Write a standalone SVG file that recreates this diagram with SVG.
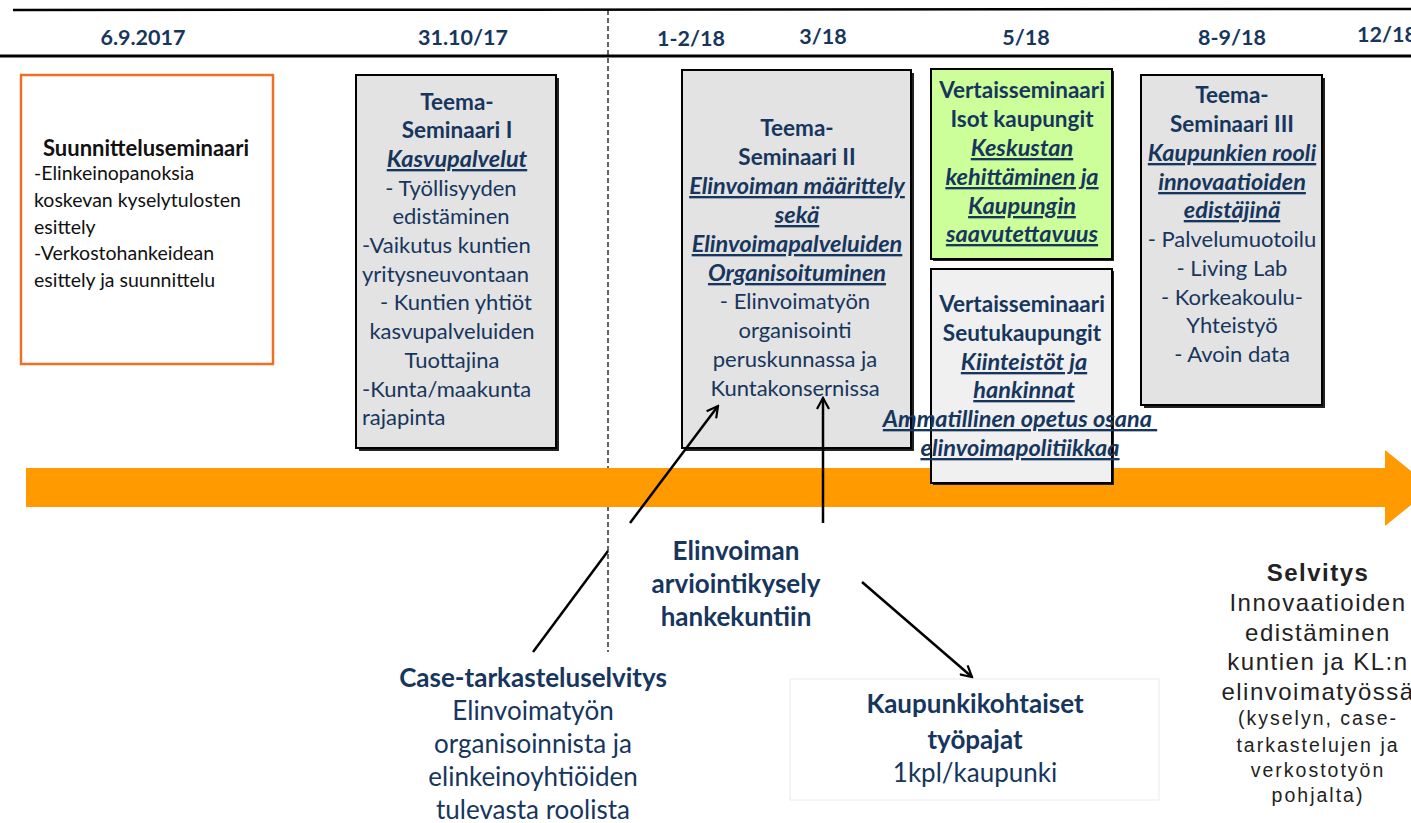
<svg xmlns="http://www.w3.org/2000/svg" width="1411" height="823" viewBox="0 0 1411 823">
<style>
text{font-family:Lato,"Open Sans","Liberation Sans",sans-serif;fill:#17365D}
.c{text-anchor:middle}
.b{font-weight:bold;font-size:22.5px}
.u{font-style:italic;font-weight:bold;text-decoration:underline;font-size:23.5px}
.d{font-size:21.5px;font-weight:bold;text-anchor:middle}
.t{font-size:22px}
.s{font-size:19.5px;fill:#111}
.big{font-size:26px}
.sel{font-family:"Liberation Sans",Arial,sans-serif;fill:#222;text-anchor:middle}
.l1{font-size:24px;letter-spacing:1.5px}
.l2{font-size:19.5px;letter-spacing:2px}
.box{fill:#E3E3E3;stroke:#000;stroke-width:2}
.sh{fill:#222}
.con{stroke:#000;stroke-width:2.5;fill:none}
</style>
<defs>
<marker id="ah" viewBox="0 0 14 14" refX="12" refY="7" markerWidth="14" markerHeight="14" markerUnits="userSpaceOnUse" orient="auto">
<polyline points="1,1 12,7 1,13" fill="none" stroke="#000" stroke-width="2.2"/>
</marker>
</defs>

<g id="timeline">
<line x1="13" y1="10" x2="1411" y2="9" stroke="#000" stroke-width="2.5"/>
<line x1="0" y1="56" x2="1411" y2="56" stroke="#000" stroke-width="3"/>
<line x1="608" y1="10" x2="608" y2="652" stroke="#000" stroke-width="1.2" stroke-dasharray="5,3"/>
<text class="d" x="143" y="45">6.9.2017</text>
<text class="d" x="463" y="45">31.10/17</text>
<text class="d" x="691" y="46">1-2/18</text>
<text class="d" x="823" y="44">3/18</text>
<text class="d" x="1026" y="45">5/18</text>
<text class="d" x="1232" y="45">8-9/18</text>
<text class="d" x="1357" y="42" style="text-anchor:start">12/18</text>
<polygon points="26,468 1385,468 1385,450 1432,488 1385,526 1385,507 26,507" fill="#FF9A00"/>
</g>

<g id="suunnittelu">
<rect x="21" y="75" width="252" height="289" fill="#fff" stroke="#ED7024" stroke-width="2.5"/>
<text class="c" x="146" y="156" style="font-size:22px;font-weight:bold;fill:#111">Suunnitteluseminaari</text>
<text class="s" x="34" y="180">-Elinkeinopanoksia</text>
<text class="s" x="34" y="207">koskevan kyselytulosten</text>
<text class="s" x="34" y="234">esittely</text>
<text class="s" x="34" y="260">-Verkostohankeidean</text>
<text class="s" x="34" y="287">esittely ja suunnittelu</text>
</g>

<g id="teema1">
<rect class="sh" x="359" y="78" width="200" height="373"/>
<rect class="box" x="356" y="75" width="200" height="373"/>
<text class="c b" x="457" y="110">Teema-</text>
<text class="c b" x="457" y="138">Seminaari I</text>
<text class="c u" x="457" y="167">Kasvupalvelut</text>
<text class="t c" x="451" y="196">- Työllisyyden</text>
<text class="t c" x="451" y="224">edistäminen</text>
<text class="t" x="362" y="253">-Vaikutus kuntien</text>
<text class="t" x="362" y="282">yritysneuvontaan</text>
<text class="t c" x="456" y="310">- Kuntien yhtiöt</text>
<text class="t c" x="452" y="339">kasvupalveluiden</text>
<text class="t c" x="452" y="368">Tuottajina</text>
<text class="t" x="362" y="397">-Kunta/maakunta</text>
<text class="t" x="362" y="425">rajapinta</text>
</g>

<g id="teema2">
<rect class="sh" x="685" y="73" width="229" height="378"/>
<rect class="box" x="682" y="70" width="229" height="378"/>
<text class="c b" x="797" y="136">Teema-</text>
<text class="c b" x="797" y="165">Seminaari II</text>
<text class="c u" x="797" y="194">Elinvoiman määrittely</text>
<text class="c u" x="797" y="223">sekä</text>
<text class="c u" x="797" y="252">Elinvoimapalveluiden</text>
<text class="c u" x="797" y="281">Organisoituminen</text>
<text class="t c" x="795" y="309">- Elinvoimatyön</text>
<text class="t c" x="795" y="338">organisointi</text>
<text class="t c" x="795" y="367">peruskunnassa ja</text>
<text class="t c" x="795" y="396">Kuntakonsernissa</text>
</g>

<g id="vertais-isot">
<rect class="sh" x="933" y="71" width="181" height="190"/>
<rect x="931" y="69" width="181" height="190" fill="#CCFF99" stroke="#000" stroke-width="2"/>
<text class="c b" x="1022" y="98">Vertaisseminaari</text>
<text class="c b" x="1022" y="127">Isot kaupungit</text>
<text class="c u" x="1022" y="156">Keskustan</text>
<text class="c u" x="1022" y="185">kehittäminen ja</text>
<text class="c u" x="1022" y="214">Kaupungin</text>
<text class="c u" x="1022" y="242">saavutettavuus</text>
</g>

<g id="vertais-seutu">
<rect class="sh" x="933" y="271" width="181" height="214"/>
<rect x="931" y="269" width="181" height="214" fill="#F0F0F0" stroke="#000" stroke-width="2"/>
<text class="c b" x="1022" y="312">Vertaisseminaari</text>
<text class="c b" x="1022" y="341">Seutukaupungit</text>
<text class="c u" x="1024" y="370">Kiinteistöt ja</text>
<text class="c u" x="1024" y="398">hankinnat</text>
<text class="c u" x="1020" y="427" xml:space="preserve">Ammatillinen opetus osana </text>
<text class="c u" x="1020" y="456">elinvoimapolitiikkaa</text>
</g>

<g id="teema3">
<rect class="sh" x="1144" y="78" width="181" height="330"/>
<rect class="box" x="1141" y="75" width="181" height="330"/>
<text class="c b" x="1232" y="103">Teema-</text>
<text class="c b" x="1232" y="132">Seminaari III</text>
<text class="c u" x="1232" y="161">Kaupunkien rooli</text>
<text class="c u" x="1232" y="190">innovaatioiden</text>
<text class="c u" x="1232" y="218">edistäjinä</text>
<text class="t c" x="1232" y="247">- Palvelumuotoilu</text>
<text class="t c" x="1232" y="276">- Living Lab</text>
<text class="t c" x="1232" y="305">- Korkeakoulu-</text>
<text class="t c" x="1232" y="333">Yhteistyö</text>
<text class="t c" x="1232" y="362">- Avoin data</text>
</g>

<g id="arviointikysely">
<text class="big c" x="736" y="560" style="font-weight:bold">Elinvoiman</text>
<text class="big c" x="736" y="593" style="font-weight:bold">arviointikysely</text>
<text class="big c" x="736" y="626" style="font-weight:bold">hankekuntiin</text>
</g>

<g id="case">
<text class="big c" x="533" y="687" style="font-weight:bold">Case-tarkasteluselvitys</text>
<text class="big c" x="533" y="720">Elinvoimatyön</text>
<text class="big c" x="533" y="753">organisoinnista ja</text>
<text class="big c" x="533" y="786">elinkeinoyhtiöiden</text>
<text class="big c" x="533" y="819">tulevasta roolista</text>
</g>

<g id="tyopajat">
<rect x="790" y="679" width="369" height="121" fill="#fff" stroke="#EAEAEA" stroke-width="1"/>
<text class="big c" x="975" y="713" style="font-weight:bold">Kaupunkikohtaiset</text>
<text class="big c" x="975" y="749" style="font-weight:bold">työpajat</text>
<text class="big c" x="975" y="782">1kpl/kaupunki</text>
</g>

<g id="selvitys">
<text class="sel l1" x="1318" y="581" style="font-weight:bold">Selvitys</text>
<text class="sel l1" x="1318" y="611">Innovaatioiden</text>
<text class="sel l1" x="1318" y="641">edistäminen</text>
<text class="sel l1" x="1318" y="670">kuntien ja KL:n</text>
<text class="sel l1" x="1318" y="700">elinvoimatyössä</text>
<text class="sel l2" x="1318" y="725">(kyselyn, case-</text>
<text class="sel l2" x="1318" y="752">tarkastelujen ja</text>
<text class="sel l2" x="1318" y="777">verkostotyön</text>
<text class="sel l2" x="1318" y="802">pohjalta)</text>
</g>

<g id="connectors">
<line class="con" x1="630" y1="523" x2="718" y2="406" marker-end="url(#ah)"/>
<line class="con" x1="823" y1="523" x2="823" y2="398" marker-end="url(#ah)"/>
<line class="con" x1="533" y1="652" x2="608" y2="551"/>
<line class="con" x1="862" y1="582" x2="972" y2="677" marker-end="url(#ah)"/>
</g>
</svg>
